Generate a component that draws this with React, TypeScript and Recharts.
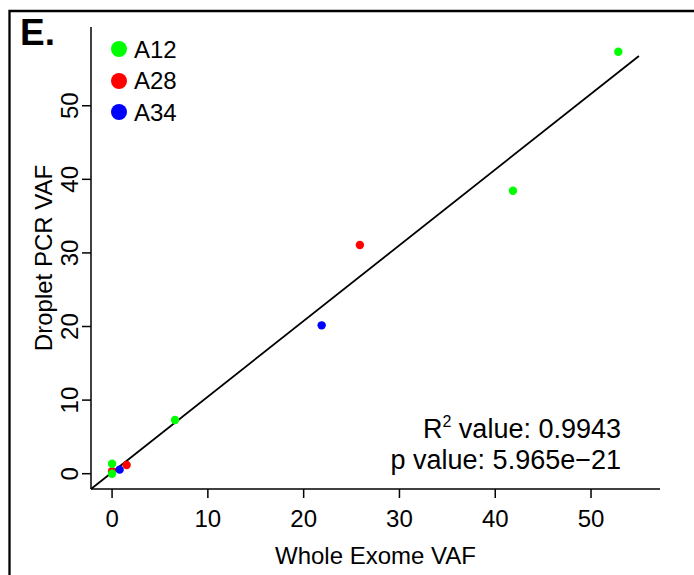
import React from 'react';
import { ScatterChart, Scatter, XAxis, YAxis, ReferenceLine, Legend, Label } from 'recharts';

const FONT = '"Liberation Sans", Arial, Helvetica, sans-serif';

// Whole Exome VAF (x) vs Droplet PCR VAF (y)
const a12X = [52.85, 41.85, 6.57, 0, 0];
const a12Y = [57.34, 38.45, 7.29, 1.35, 0];
const a28X = [25.87, 1.52, 0];
const a28Y = [31.08, 1.18, 0.34];
const a34X = [21.88, 0.79];
const a34Y = [20.16, 0.55];

// fitted line end points
const fitX = [-2.2, 55.0];
const fitY = [-2.08, 56.76];

const xTicks = [0, 10, 20, 30, 40, 50];
const yTicks = [0, 10, 20, 30, 40, 50];

const toPoints = (xs: number[], ys: number[]) => xs.map((x, i) => ({ x, y: ys[i] }));

const series = [
  { name: 'A28', color: '#FF0000', data: toPoints(a28X, a28Y) },
  { name: 'A34', color: '#0000FF', data: toPoints(a34X, a34Y) },
  { name: 'A12', color: '#00FF00', data: toPoints(a12X, a12Y) },
];
const legendOrder = ['A12', 'A28', 'A34'];

const Dot = (props: any) => {
  const { cx, cy, fill } = props;
  if (cx == null || cy == null) return <g />;
  return <circle cx={cx} cy={cy} r={4.2} fill={fill} />;
};

const YTick = (props: any) => {
  const { x, y, payload } = props;
  return (
    <text
      x={x}
      y={y}
      transform={`rotate(-90, ${x}, ${y})`}
      textAnchor="middle"
      fontSize={24}
      fontFamily={FONT}
      fill="#000"
    >
      {payload.value}
    </text>
  );
};

const LegendBox = () => (
  <div style={{ fontFamily: FONT, fontSize: 24, color: '#000' }}>
    {legendOrder.map(name => {
      const s = series.find(d => d.name === name)!;
      return (
        <div key={name} style={{ display: 'flex', alignItems: 'center', height: 31.5 }}>
          <span style={{ width: 16, height: 16, borderRadius: 8, background: s.color, display: 'inline-block' }} />
          <span style={{ marginLeft: 7, lineHeight: '31.5px' }}>{name}</span>
        </div>
      );
    })}
  </div>
);

export default function App() {
  return (
    <div style={{ position: 'absolute', left: 0, top: 0, width: 694, height: 575, overflow: 'hidden', background: '#fff' }}>
      <ScatterChart width={694} height={575} margin={{ top: 27, right: 34, bottom: 0, left: 0 }}>
        <XAxis
          type="number"
          dataKey="x"
          domain={[-2.2, 57.2]}
          ticks={xTicks}
          allowDataOverflow
          height={86}
          tickSize={9}
          tickMargin={12}
          stroke="#000"
          strokeWidth={1.5}
          tick={{ fill: '#000', fontSize: 24, fontFamily: FONT }}
        >
          <Label
            content={(p: any) => {
              const vb = p.viewBox || {};
              return (
                <text x={vb.x + vb.width / 2} y={vb.y + 75} textAnchor="middle" fontSize={24} fontFamily={FONT} fill="#000">
                  Whole Exome VAF
                </text>
              );
            }}
          />
        </XAxis>
        <YAxis
          type="number"
          dataKey="y"
          domain={[-2.08, 60.7]}
          ticks={yTicks}
          allowDataOverflow
          width={91}
          tickSize={9}
          tickMargin={3.7}
          stroke="#000"
          strokeWidth={1.5}
          tick={<YTick />}
        >
          <Label
            content={(p: any) => {
              const vb = p.viewBox || {};
              const cx = 51.7;
              const cy = vb.y + vb.height / 2;
              return (
                <text x={cx} y={cy} transform={`rotate(-90, ${cx}, ${cy})`} textAnchor="middle" fontSize={24} fontFamily={FONT} fill="#000">
                  Droplet PCR VAF
                </text>
              );
            }}
          />
        </YAxis>
        {series.map(s => (
          <Scatter key={s.name} name={s.name} data={s.data} fill={s.color} shape={<Dot />} isAnimationActive={false} />
        ))}
        <ReferenceLine
          segment={[{ x: fitX[0], y: fitY[0] }, { x: fitX[1], y: fitY[1] }]}
          stroke="#000"
          strokeWidth={1.8}
          ifOverflow="visible"
        />
        <Legend
          layout="vertical"
          align="center"
          verticalAlign="middle"
          content={<LegendBox />}
          wrapperStyle={{ left: 111, top: 33.5, width: 'auto', height: 'auto' }}
        />
      </ScatterChart>
      <svg
        width={694}
        height={575}
        style={{ position: 'absolute', left: 0, top: 0, pointerEvents: 'none' }}
      >
        <path d="M9.5,575 L9.5,11 L694,11" fill="none" stroke="#000" strokeWidth={2.3} />
        <text x={20} y={45} fontSize={37} fontWeight="bold" fontFamily={FONT} fill="#000">E.</text>
        <text x={621} y={438.3} textAnchor="end" fontSize={27} fontFamily={FONT} fill="#000">
          R<tspan fontSize={16} dy={-11}>2</tspan><tspan dy={11}> value: 0.9943</tspan>
        </text>
        <text x={621} y={469} textAnchor="end" fontSize={27} fontFamily={FONT} fill="#000">
          p value: 5.965e−21
        </text>
      </svg>
    </div>
  );
}
